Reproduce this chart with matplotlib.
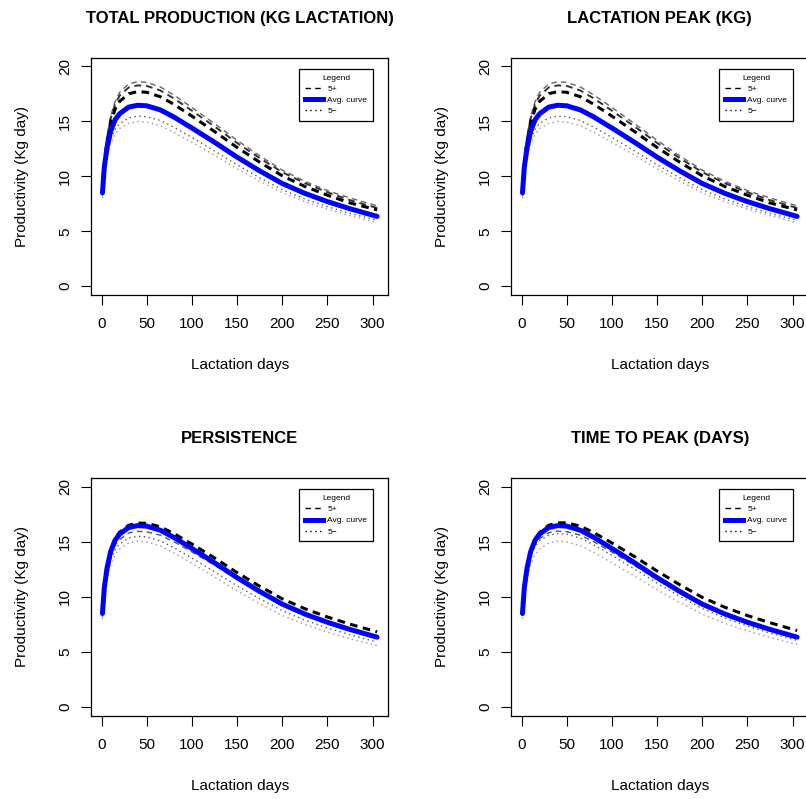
import matplotlib
matplotlib.use("Agg")
import matplotlib.pyplot as plt
from matplotlib.lines import Line2D

plt.rcParams['font.family'] = ['Liberation Sans', 'DejaVu Sans']

days = [1, 3, 6, 10, 15, 20, 30, 40, 50, 65, 80, 100, 125, 150, 175, 200, 225, 250, 275, 305]

avg_curve = [8.5, 10.8, 12.6, 14.1, 15.15, 15.7, 16.3, 16.47, 16.42, 16.05,
             15.4, 14.4, 13.1, 11.75, 10.5, 9.35, 8.45, 7.7, 7.05, 6.35]

# total production / lactation peak (both top panels look the same)
top_plus_1 = [8.61, 11.36, 13.58, 15.47, 16.82, 17.64, 18.42, 18.61, 18.55, 18.14,
              17.40, 16.27, 14.80, 13.28, 11.87, 10.57, 9.55, 8.70, 8.03, 7.32]
top_plus_2 = [8.59, 11.28, 13.43, 15.26, 16.57, 17.34, 18.09, 18.28, 18.23, 17.82,
              17.09, 15.98, 14.54, 13.04, 11.66, 10.38, 9.38, 8.55, 7.83, 7.12]
top_plus_3 = [8.56, 11.12, 13.17, 14.89, 16.12, 16.82, 17.52, 17.71, 17.65, 17.25,
              16.56, 15.48, 14.08, 12.63, 11.29, 10.05, 9.08, 8.28, 7.58, 6.95]
top_minus_1 = [8.2, 10.3, 12.0, 13.3, 14.3, 14.8, 15.32, 15.48, 15.43, 15.09,
               14.48, 13.54, 12.31, 11.05, 9.87, 8.79, 7.94, 7.24, 6.63, 6.0]
top_minus_2 = [8.0, 10.0, 11.6, 12.9, 13.85, 14.35, 14.83, 14.99, 14.94, 14.61,
               14.01, 13.10, 11.92, 10.69, 9.56, 8.51, 7.69, 7.01, 6.42, 5.78]

# persistence
pers_plus_1 = [8.55, 10.9, 12.75, 14.25, 15.3, 15.88, 16.5, 16.7, 16.68, 16.36,
               15.75, 14.80, 13.54, 12.21, 10.97, 9.83, 8.93, 8.18, 7.53, 6.83]
pers_plus_2 = [8.45, 10.6, 12.3, 13.7, 14.7, 15.2, 15.8, 15.95, 15.91, 15.60,
               15.01, 14.08, 12.88, 11.60, 10.42, 9.32, 8.46, 7.75, 7.12, 6.45]
pers_minus_1 = [8.2, 10.25, 11.95, 13.3, 14.3, 14.8, 15.35, 15.5, 15.45, 15.09,
                14.47, 13.52, 12.29, 11.02, 9.84, 8.75, 7.9, 7.19, 6.57, 5.9]
pers_minus_2 = [8.0, 10.0, 11.6, 12.9, 13.85, 14.35, 14.9, 15.05, 15.0, 14.63,
                14.0, 13.05, 11.82, 10.56, 9.4, 8.33, 7.5, 6.81, 6.2, 5.6]

# time to peak
ttp_plus_1 = [8.5, 10.75, 12.6, 14.15, 15.25, 15.85, 16.5, 16.72, 16.72, 16.42,
              15.83, 14.9, 13.66, 12.35, 11.11, 9.96, 9.06, 8.31, 7.66, 6.95]
ttp_plus_2 = [8.4, 10.7, 12.45, 13.85, 14.8, 15.3, 15.82, 15.97, 15.92, 15.6,
              15.0, 14.07, 12.85, 11.55, 10.35, 9.22, 8.35, 7.62, 6.98, 6.28]
ttp_minus_1 = [8.3, 10.5, 12.25, 13.65, 14.6, 15.1, 15.6, 15.75, 15.7, 15.34,
               14.72, 13.77, 12.53, 11.25, 10.05, 8.95, 8.08, 7.36, 6.72, 6.05]
ttp_minus_2 = [8.0, 10.0, 11.6, 12.9, 13.85, 14.35, 14.9, 15.05, 15.0, 14.65,
               14.04, 13.1, 11.9, 10.66, 9.5, 8.44, 7.6, 6.92, 6.32, 5.7]

titles = ['TOTAL PRODUCTION (KG LACTATION)', 'LACTATION PEAK (KG)',
          'PERSISTENCE', 'TIME TO PEAK (DAYS)']
legend_labels = ['5+', 'Avg. curve', '5\u2212']

panels = [
    ([top_plus_1, top_plus_2, top_plus_3], [top_minus_1, top_minus_2]),
    ([top_plus_1, top_plus_2, top_plus_3], [top_minus_1, top_minus_2]),
    ([pers_plus_1, pers_plus_2], [pers_minus_1, pers_minus_2]),
    ([ttp_plus_1, ttp_plus_2], [ttp_minus_1, ttp_minus_2]),
]

# (colour, width, dash pattern)
top_plus_style = [('#666666', 1.0, (0, (4, 3))), ('#333333', 1.4, (0, (3.5, 2.5))),
                  ('black', 2.2, (0, (2.5, 1.8)))]
bottom_plus_style = [('black', 2.2, (0, (2.5, 1.8))), ('#555555', 1.0, (0, (4, 3)))]
minus_style = [('#555555', 1.0), ('#999999', 1.0)]

positions = [[0.1135, 0.6308, 0.368, 0.297], [0.6346, 0.6308, 0.368, 0.297],
             [0.1135, 0.1039, 0.368, 0.298], [0.6346, 0.1039, 0.368, 0.298]]

fig = plt.figure(figsize=(8.06, 7.99), dpi=100)

for i, (plus, minus) in enumerate(panels):
    ax = fig.add_axes(positions[i])
    pstyle = top_plus_style if i < 2 else bottom_plus_style
    for curve, (c, lw) in zip(minus, minus_style):
        ax.plot(days, curve, color=c, lw=lw, ls=(0, (1, 2.5)))
    for curve, (c, lw, ls) in zip(plus, pstyle):
        ax.plot(days, curve, color=c, lw=lw, ls=ls)
    ax.plot(days, avg_curve, color='#0000ff', lw=3.6, solid_capstyle='round')

    ax.set_xlim(1 - 12.16, 305 + 12.16)
    ax.set_ylim(-0.8, 20.8)
    ax.set_xticks(range(0, 301, 50))
    ax.set_yticks(range(0, 21, 5))
    ax.set_yticklabels([str(v) for v in range(0, 21, 5)], rotation=90, va='center')
    ax.tick_params(direction='out', length=7, width=0.8, labelsize=11, colors='black')
    ax.tick_params(axis='x', pad=9)
    ax.tick_params(axis='y', pad=7)
    for s in ax.spines.values():
        s.set_linewidth(0.9)

    ax.text(0.5, 1.167, titles[i], transform=ax.transAxes, ha='center', va='center',
            fontsize=12, fontweight='bold')
    ax.text(0.5, -0.295, 'Lactation days', transform=ax.transAxes, ha='center',
            va='center', fontsize=11)
    ax.text(-0.234, 0.5, 'Productivity (Kg day)', transform=ax.transAxes, ha='center',
            va='center', rotation=90, fontsize=11)

    handles = [Line2D([], [], color='black', lw=1.0, ls=(0, (4, 3))),
               Line2D([], [], color='#0000ff', lw=3.6),
               Line2D([], [], color='black', lw=1.0, ls=(0, (1, 2.5)))]
    leg = ax.legend(handles, legend_labels, title='Legend', loc='upper right',
                    bbox_to_anchor=(0.949, 0.952), fontsize=6, title_fontsize=6,
                    fancybox=False, framealpha=1, edgecolor='black',
                    handlelength=2.2, borderpad=0.7, labelspacing=0.4,
                    handletextpad=0.5, borderaxespad=0)
    leg.get_frame().set_linewidth(0.9)

plt.savefig('out.png', dpi=100)
